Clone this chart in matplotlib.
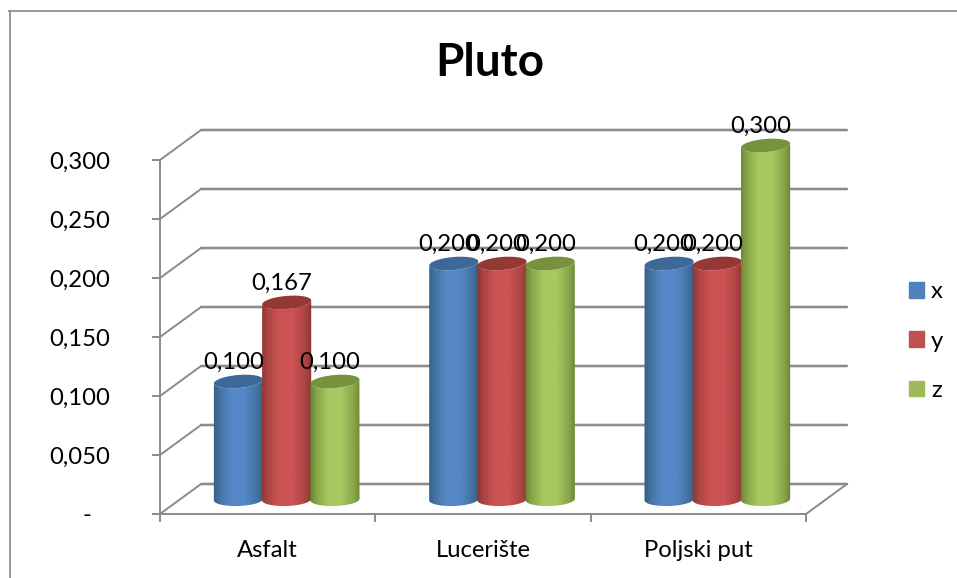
from matplotlib import pyplot as plt
from matplotlib.colors import LinearSegmentedColormap
from matplotlib.lines import Line2D
from matplotlib.patches import Patch, Polygon
from matplotlib.transforms import Affine2D, IdentityTransform
import numpy as np

categories = ["Asfalt", "Lucerište", "Poljski put"]
x_vals = [0.100, 0.200, 0.200]
y_vals = [0.167, 0.200, 0.200]
z_vals = [0.100, 0.200, 0.300]
series_names = ["x", "y", "z"]
y_ticks = [0, 0.05, 0.10, 0.15, 0.20, 0.25, 0.30]
y_labels = ["-   ", "0,050", "0,100", "0,150", "0,200", "0,250", "0,300"]

W, H = 957, 578
GRAY = "#8a8a8a"
FONT = "Lato"
FS = 17.2
BAR_W = 0.224

# dark edge, mid tone, light middle, top cap, legend swatch
styles = [
    ("#2f5a88", "#44729f", "#5688c8", "#3c6997", "#4f81bd"),
    ("#863230", "#ab4543", "#cc5353", "#953735", "#c0504d"),
    ("#647f30", "#86a549", "#a6c960", "#76923c", "#9bbb59"),
]


def cylinder_points(bottom, top, half_w, b, ang_top=5, ang_bot=2):
    t = np.linspace(np.pi, 2 * np.pi, 40)

    def arc(center, ang, tt):
        a = np.radians(ang)
        ex, ey = half_w * np.cos(tt), b * np.sin(tt)
        return np.column_stack([center[0] + ex * np.cos(a) - ey * np.sin(a),
                                center[1] + ex * np.sin(a) + ey * np.cos(a)])

    body = np.vstack([arc(bottom, ang_bot, t), arc(top, ang_top, t[::-1])])
    cap = arc(top, ang_top, np.linspace(0, 2 * np.pi, 80))
    return body, cap


fig = plt.figure(figsize=(W / 100, H / 100), dpi=100)
ax = fig.add_axes([160 / W, (H - 514) / H, (806 - 160) / W, (514 - 160) / H])
ax.set_xlim(-0.5, 2.5)
ax.set_ylim(0, 0.3)
ax.autoscale(False)
ax.patch.set_visible(False)

# chart frame, only left and top are visible in the picture
fig.add_artist(Line2D([9.5 / W, 9.5 / W], [0, 1 - 11 / H], color="#8f8f8f", lw=1.3))
fig.add_artist(Line2D([9 / W, 1], [1 - 11 / H, 1 - 11 / H], color="#8f8f8f", lw=1.3))

# back wall and floor
back = ax.transData + Affine2D().translate(41, 30)
for v in y_ticks:
    ax.plot([-0.5, 2.5], [v, v], transform=back, color="#d4d4d4", lw=2.6, clip_on=False,
            zorder=1, solid_capstyle="butt")
    ax.plot([-0.5, 2.5], [v, v], transform=back, color=GRAY, lw=1.4, clip_on=False, zorder=1.1)
    p0 = ax.transData.transform((-0.5, v))
    p1 = back.transform((-0.5, v))
    ax.plot([p0[0], p1[0]], [p0[1], p1[1]], transform=IdentityTransform(), color=GRAY,
            lw=1.4, clip_on=False, zorder=1.1)
p0 = ax.transData.transform((2.5, 0))
p1 = back.transform((2.5, 0))
ax.plot([p0[0], p1[0]], [p0[1], p1[1]], transform=IdentityTransform(), color=GRAY,
        lw=1.4, clip_on=False, zorder=1.1)

# cylinders
depth = Affine2D().translate(19, 14.5)
half_w = ax.transData.transform((BAR_W, 0))[0] - ax.transData.transform((0, 0))[0]
half_w = half_w / 2 + 0.5
z = 3
for i, vals in enumerate([x_vals, y_vals, z_vals]):
    dark, mid, light, cap_col, _ = styles[i]
    cmap = LinearSegmentedColormap.from_list(
        "c", [(0, dark), (0.14, mid), (0.36, light), (0.62, light), (0.86, mid), (1, dark)])
    grad = np.linspace(0, 1, 128).reshape(1, -1)
    for c, v in enumerate(vals):
        xc = c + (i - 1) * BAR_W
        bottom = depth.transform(ax.transData.transform((xc, 0)))
        top = depth.transform(ax.transData.transform((xc, v)))
        body, cap = cylinder_points(bottom, top, half_w, 6.5)
        clip = Polygon(body, closed=True, transform=IdentityTransform(), fc="none", ec="none")
        ax.add_patch(clip)
        im = ax.imshow(grad, cmap=cmap, aspect="auto", zorder=z,
                       extent=(xc - BAR_W / 2 - 0.01, xc + BAR_W / 2 + 0.01, -0.03, v + 0.03),
                       transform=ax.transData + depth, interpolation="bilinear")
        im.set_clip_box(fig.bbox)
        im.set_clip_path(clip)
        ax.add_patch(Polygon(cap, closed=True, transform=IdentityTransform(), fc=cap_col,
                             ec="none", zorder=z + 0.5, clip_on=False))
        ax.annotate(f"{v:.3f}".replace(".", ","), (xc, v), xytext=(14, 34),
                    textcoords="offset pixels", ha="center", va="center",
                    fontsize=FS, family=FONT, color="black", zorder=20,
                    annotation_clip=False)
    z += 1

# axes
for s in ("top", "right"):
    ax.spines[s].set_visible(False)
for s in ("left", "bottom"):
    ax.spines[s].set_color(GRAY)
    ax.spines[s].set_linewidth(1.4)
ax.set_yticks(y_ticks)
ax.set_yticklabels(y_labels, fontsize=FS, family=FONT)
ax.tick_params(axis="y", length=5.8, width=1.4, color=GRAY, pad=30)
ax.set_xticks([-0.5, 0.5, 1.5, 2.5])
ax.set_xticklabels([])
ax.set_xticks([0, 1, 2], labels=categories, minor=True, fontsize=FS, family=FONT)
ax.tick_params(axis="x", which="major", length=5.8, width=1.4, color=GRAY)
ax.tick_params(axis="x", which="minor", length=0, pad=19)

fig.text(490 / W, 1 - 63 / H, "Pluto", fontsize=33, fontweight="bold", family=FONT,
         ha="center", va="center")

handles = [Patch(color=styles[i][4], label=series_names[i]) for i in range(3)]
fig.legend(handles=handles, loc="center left", bbox_to_anchor=(890 / W, 1 - 341 / H),
           frameon=False, prop={"family": FONT, "size": FS}, handlelength=0.62,
           handleheight=0.62, handletextpad=0.3, labelspacing=1.18, borderpad=0.3)

fig.savefig("out.png", dpi=100)
